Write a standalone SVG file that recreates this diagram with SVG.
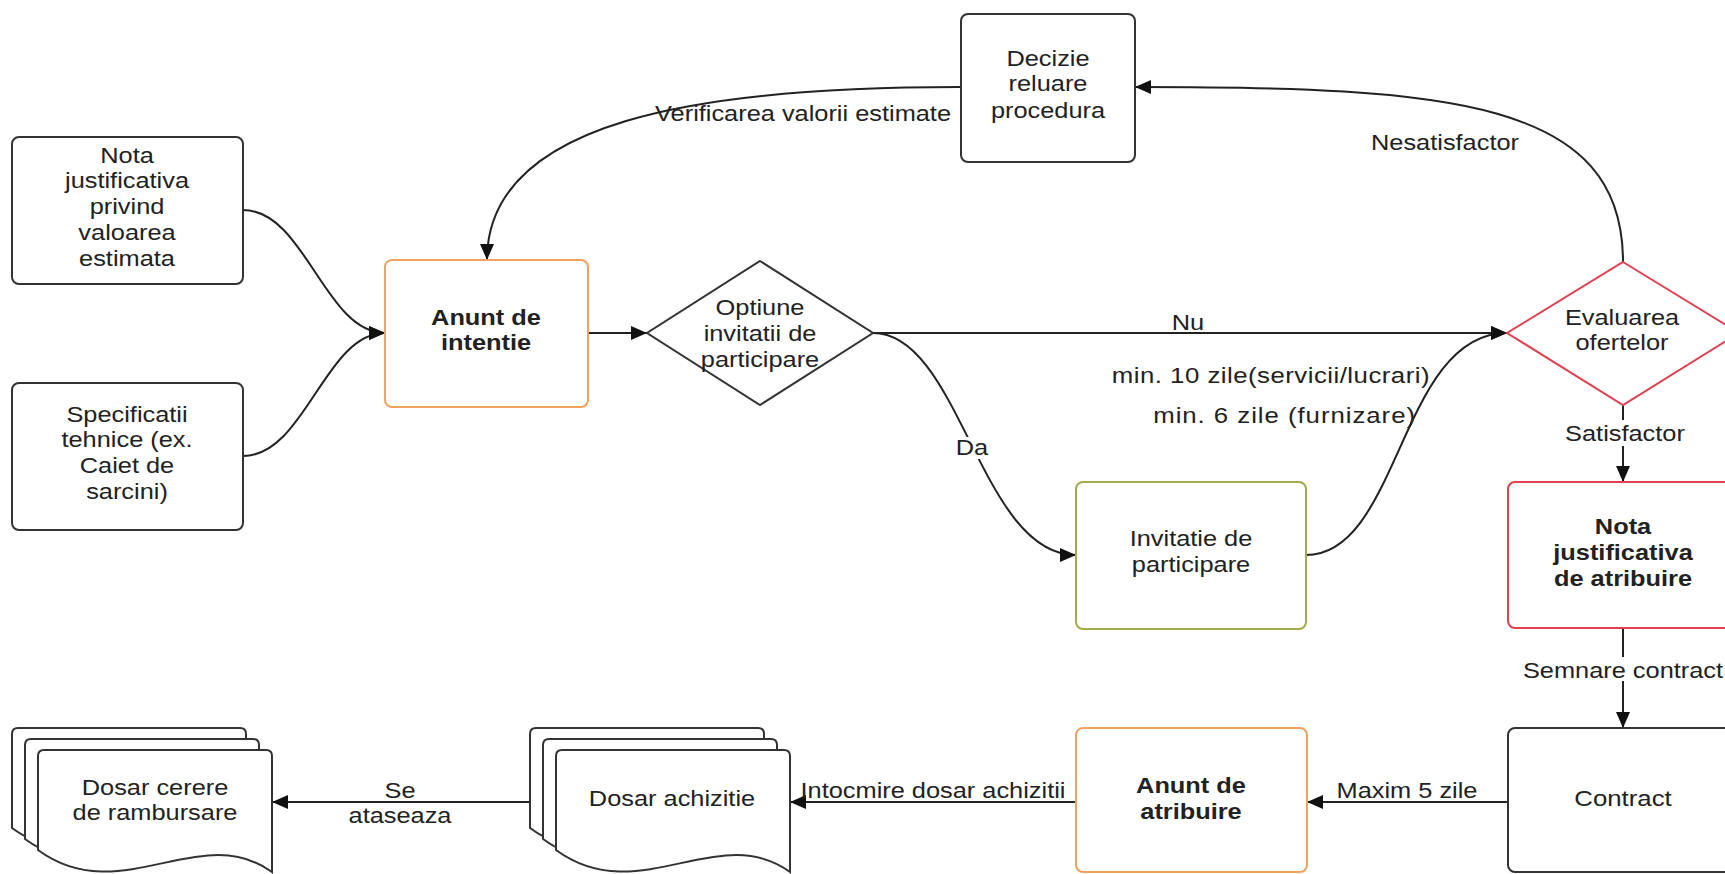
<svg xmlns="http://www.w3.org/2000/svg" width="1725" height="874" viewBox="0 0 1725 874">
<style>
.box{fill:#fff;stroke:#333;stroke-width:2}
.or{stroke:#f0a35e}
.gr{stroke:#a3ac4a}
.rd{stroke:#e0404f}
.t{font-family:"Liberation Sans",Arial,sans-serif;font-size:21.5px;fill:#222;text-anchor:middle}
.b{font-weight:bold}
.e{text-anchor:end}
.c{fill:none;stroke:#222;stroke-width:2}
</style>
<defs>
<marker id="ah" markerUnits="userSpaceOnUse" markerWidth="17" markerHeight="14" refX="16" refY="7" orient="auto">
<path d="M0,0 L16,7 L0,14 Z" fill="#111"/>
</marker>
<path id="doc" d="M0,100 L0,6 Q0,0 6,0 L228,0 Q234,0 234,6 L234,122 C162,70 82,160 0,100 Z"/>
</defs>
<rect width="1725" height="874" fill="#fff"/>

<g id="connectors">
<path class="c" d="M243,210 C305,210 325,333 385,333" marker-end="url(#ah)"/>
<path class="c" d="M243,456 C305,456 325,333 385,333" marker-end="url(#ah)"/>
<path class="c" d="M960,87 C700,87 487,120 487,260" marker-end="url(#ah)"/>
<path class="c" d="M1623,262 C1623,100 1450,87 1135,87" marker-end="url(#ah)"/>
<path class="c" d="M588,333 L647,333" marker-end="url(#ah)"/>
<path class="c" d="M873,333 L1507,333" marker-end="url(#ah)"/>
<path class="c" d="M873,333 C960,333 980,555 1076,555" marker-end="url(#ah)"/>
<rect x="960" y="437" width="30" height="22" fill="#fff"/>
<path class="c" d="M1306,555 C1400,555 1400,333 1507,333" marker-end="url(#ah)"/>
<path class="c" d="M1623,405 L1623,420"/>
<path class="c" d="M1623,446 L1623,482" marker-end="url(#ah)"/>
<path class="c" d="M1623,628 L1623,657"/>
<path class="c" d="M1623,681 L1623,728" marker-end="url(#ah)"/>
<path class="c" d="M1508,802 L1307,802" marker-end="url(#ah)"/>
<path class="c" d="M1076,802 L790,802" marker-end="url(#ah)"/>
<path class="c" d="M530,802 L272,802" marker-end="url(#ah)"/>
<text class="t e" transform="translate(951,120.5) scale(1.18,1)">Verificarea valorii estimate</text>
<text class="t" transform="translate(1445,149.5) scale(1.18,1)">Nesatisfactor</text>
<text class="t" transform="translate(1188,329.5) scale(1.18,1)">Nu</text>
<text class="t e" transform="translate(1430,382.5) scale(1.2,1)" letter-spacing="0.4">min. 10 zile(servicii/lucrari)</text>
<text class="t e" transform="translate(1416,422.5) scale(1.2,1)" letter-spacing="0.8">min. 6 zile (furnizare)</text>
<text class="t" transform="translate(972,454.5) scale(1.18,1)">Da</text>
<text class="t" transform="translate(1625,440.5) scale(1.18,1)">Satisfactor</text>
<text class="t" transform="translate(1623,677.5) scale(1.18,1)">Semnare contract</text>
<text class="t" transform="translate(1407,797.5) scale(1.18,1)">Maxim 5 zile</text>
<text class="t" transform="translate(933,797.5) scale(1.18,1)">Intocmire dosar achizitii</text>
<text class="t" transform="translate(400,797.5) scale(1.18,1)"><tspan x="0">Se</tspan><tspan x="0" dy="26">ataseaza</tspan></text>
</g>

<g id="nota-valoare">
<rect class="box" x="12" y="137" width="231" height="147" rx="7"/>
<text class="t" transform="translate(127,162.5) scale(1.18,1)"><tspan x="0">Nota</tspan><tspan x="0" dy="26">justificativa</tspan><tspan x="0" dy="26">privind</tspan><tspan x="0" dy="26">valoarea</tspan><tspan x="0" dy="26">estimata</tspan></text>
</g>

<g id="specificatii">
<rect class="box" x="12" y="383" width="231" height="147" rx="7"/>
<text class="t" transform="translate(127,421.5) scale(1.18,1)"><tspan x="0">Specificatii</tspan><tspan x="0" dy="26">tehnice (ex.</tspan><tspan x="0" dy="26">Caiet de</tspan><tspan x="0" dy="26">sarcini)</tspan></text>
</g>

<g id="anunt-intentie">
<rect class="box or" x="385" y="260" width="203" height="147" rx="7"/>
<text class="t b" transform="translate(486,324.5) scale(1.18,1)"><tspan x="0">Anunt de</tspan><tspan x="0" dy="26">intentie</tspan></text>
</g>

<g id="optiune">
<path class="box" d="M760,261 L873,333 L760,405 L647,333 Z"/>
<text class="t" transform="translate(760,314.5) scale(1.18,1)"><tspan x="0">Optiune</tspan><tspan x="0" dy="26.5">invitatii de</tspan><tspan x="0" dy="26.5">participare</tspan></text>
</g>

<g id="decizie">
<rect class="box" x="961" y="14" width="174" height="148" rx="7"/>
<text class="t" transform="translate(1048,65.5) scale(1.18,1)"><tspan x="0">Decizie</tspan><tspan x="0" dy="26">reluare</tspan><tspan x="0" dy="26.5">procedura</tspan></text>
</g>

<g id="evaluarea">
<path class="box rd" d="M1623,262 L1739,333 L1623,405 L1507,333 Z"/>
<text class="t" transform="translate(1622,324.5) scale(1.18,1)"><tspan x="0">Evaluarea</tspan><tspan x="0" dy="26">ofertelor</tspan></text>
</g>

<g id="invitatie">
<rect class="box gr" x="1076" y="482" width="230" height="147" rx="7"/>
<text class="t" transform="translate(1191,545.5) scale(1.18,1)"><tspan x="0">Invitatie de</tspan><tspan x="0" dy="26.5">participare</tspan></text>
</g>

<g id="nota-atribuire">
<rect class="box rd" x="1508" y="482" width="232" height="146" rx="7"/>
<text class="t b" transform="translate(1623,533.5) scale(1.18,1)"><tspan x="0">Nota</tspan><tspan x="0" dy="26.5">justificativa</tspan><tspan x="0" dy="26.5">de atribuire</tspan></text>
</g>

<g id="contract">
<rect class="box" x="1508" y="728" width="232" height="144" rx="7"/>
<text class="t" transform="translate(1623,805.5) scale(1.2,1)">Contract</text>
</g>

<g id="anunt-atribuire">
<rect class="box or" x="1076" y="728" width="231" height="144" rx="7"/>
<text class="t b" transform="translate(1191,792.5) scale(1.18,1)"><tspan x="0">Anunt de</tspan><tspan x="0" dy="26.5">atribuire</tspan></text>
</g>

<g id="dosar-achizitie">
<use href="#doc" class="box" transform="translate(530,728)"/>
<use href="#doc" class="box" transform="translate(543,739)"/>
<use href="#doc" class="box" transform="translate(556,750)"/>
<text class="t" transform="translate(672,805.5) scale(1.18,1)">Dosar achizitie</text>
</g>

<g id="dosar-cerere">
<use href="#doc" class="box" transform="translate(12,728)"/>
<use href="#doc" class="box" transform="translate(25,739)"/>
<use href="#doc" class="box" transform="translate(38,750)"/>
<text class="t" transform="translate(155,794.5) scale(1.18,1)"><tspan x="0">Dosar cerere</tspan><tspan x="0" dy="26">de rambursare</tspan></text>
</g>
</svg>
